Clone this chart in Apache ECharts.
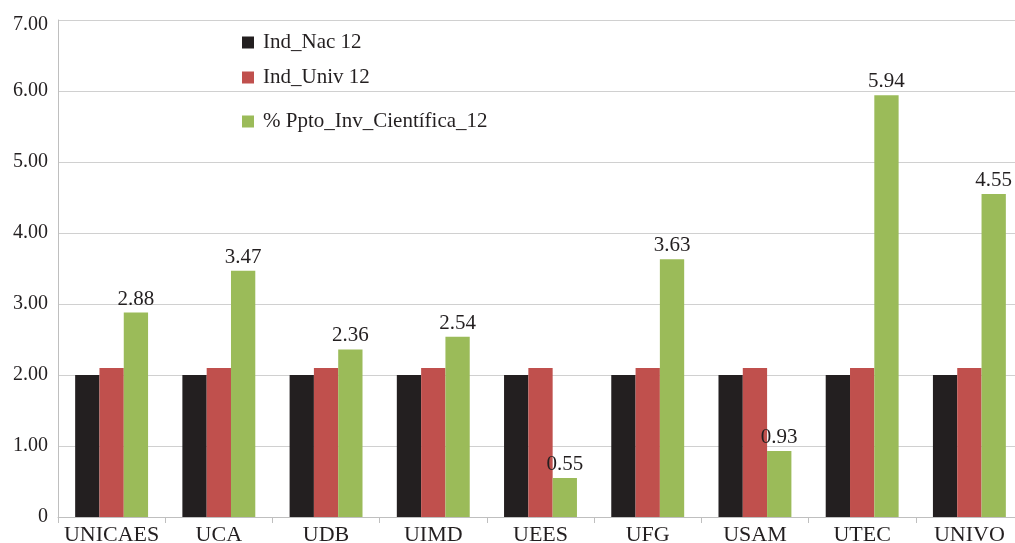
<!DOCTYPE html>
<html><head><meta charset="utf-8">
<script src="https://cdn.jsdelivr.net/npm/echarts@6/dist/echarts.min.js"></script>
<style>html,body{margin:0;padding:0;background:#fff}#c{width:1015px;height:543px}</style>
</head><body><div id="c"></div>
<script>
const categories = ['UNICAES','UCA','UDB','UIMD','UEES','UFG','USAM','UTEC','UNIVO'];
const indNac = [2.00,2.00,2.00,2.00,2.00,2.00,2.00,2.00,2.00];
const indUniv = [2.10,2.10,2.10,2.10,2.10,2.10,2.10,2.10,2.10];
const pptoInv = [2.88,3.47,2.36,2.54,0.55,3.63,0.93,5.94,4.55];
const yTicks = ['0','1.00','2.00','3.00','4.00','5.00','6.00','7.00'];
const seriesNames = ['Ind_Nac 12','Ind_Univ 12','% Ppto_Inv_Científica_12'];
const colors = ['#231f20','#c0504d','#9bbb59'];

const font = "'Liberation Serif','DejaVu Serif',serif";
const txt = '#231f20';
const chart = echarts.init(document.getElementById('c'), null, {renderer:'canvas'});
function leg(name, top){
  return {data:[name], orient:'vertical', left:242, top:top, itemWidth:12, itemHeight:12,
    icon:'rect', itemGap:0, selectedMode:false, padding:0,
    textStyle:{fontFamily:font, fontSize:21, color:txt, padding:[0,0,0,4]}};
}
chart.setOption({
  animation:false,
  textStyle:{fontFamily:font},
  legend:[leg(seriesNames[0],32), leg(seriesNames[1],67), leg(seriesNames[2],111)],
  grid:{left:58, right:-8, top:20, bottom:26, containLabel:false, outerBoundsMode:'none'},
  xAxis:{type:'category', data:categories,
    axisLine:{lineStyle:{color:'#bfbfbf', width:1}},
    axisTick:{show:true, interval:0, length:6, lineStyle:{color:'#bfbfbf'}},
    axisLabel:{interval:0, fontFamily:font, fontSize:22, color:txt, margin:7}},
  yAxis:{type:'value', min:0, max:7, interval:1,
    axisLine:{show:true, lineStyle:{color:'#bfbfbf'}},
    axisTick:{show:false},
    splitLine:{lineStyle:{color:'#d0d0d0'}},
    axisLabel:{fontFamily:font, fontSize:20, color:txt, margin:10,
      formatter:(v)=>{const i=Math.round(v); return i===7 ? '{top|'+yTicks[i]+'}' : yTicks[i];},
      rich:{top:{fontFamily:font, fontSize:20, color:txt, padding:[10,0,0,0]}}}},
  series:[
    {name:seriesNames[0], type:'bar', data:indNac, itemStyle:{color:colors[0]}, barGap:'0%', barCategoryGap:'32%'},
    {name:seriesNames[1], type:'bar', data:indUniv, itemStyle:{color:colors[1]}, barGap:'0%', barCategoryGap:'32%'},
    {name:seriesNames[2], type:'bar', data:pptoInv, itemStyle:{color:colors[2]}, barGap:'0%', barCategoryGap:'32%',
      label:{show:true, position:'top', distance:3, fontFamily:font, fontSize:21, color:txt,
        formatter:(p)=>p.value.toFixed(2)}}
  ]
});
</script></body></html>
